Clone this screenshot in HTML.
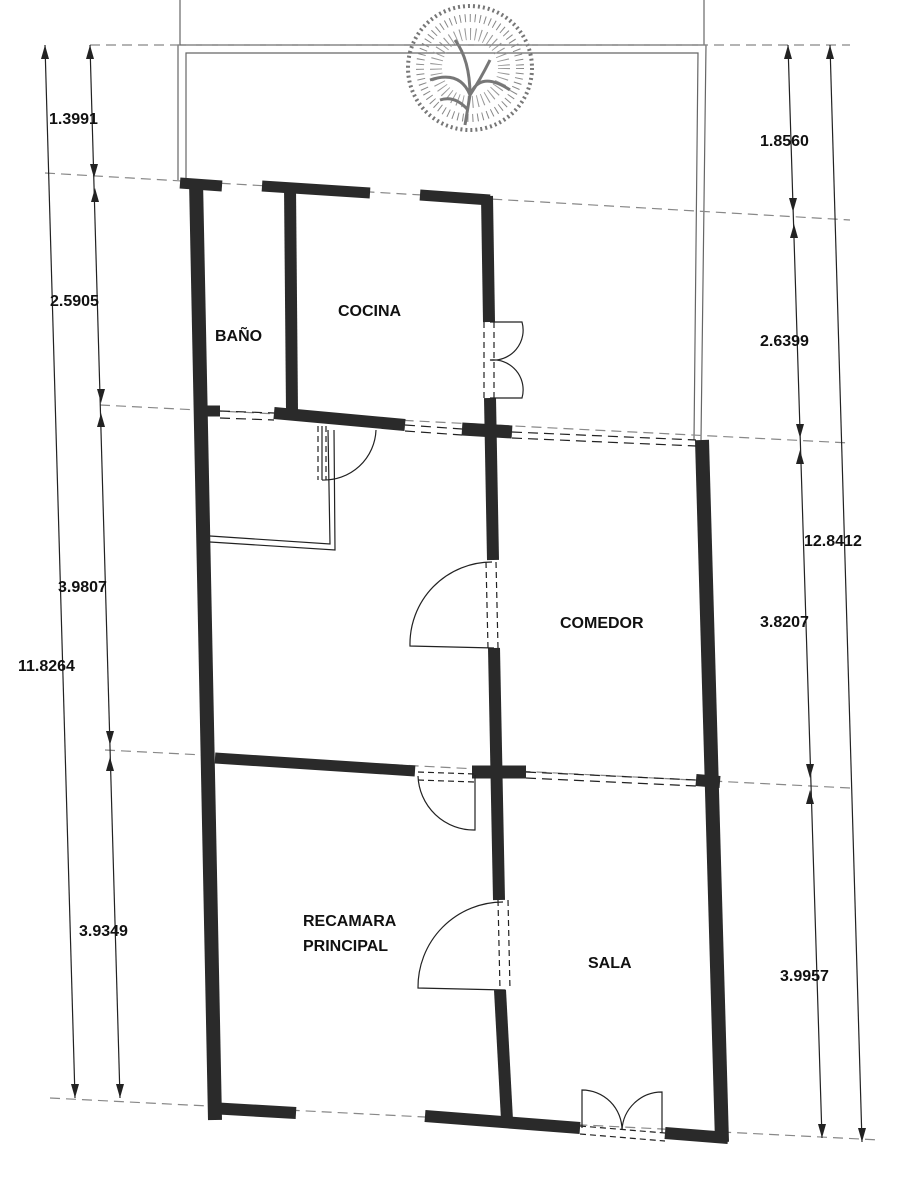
<!DOCTYPE html>
<html><head><meta charset="utf-8"><style>
html,body{margin:0;padding:0;background:#fff;width:919px;height:1200px;overflow:hidden}
svg{display:block}
text{font-family:"Liberation Sans",sans-serif;font-size:16px;fill:#111;font-weight:bold}
.w{stroke:#2a2a2a;stroke-linecap:butt;fill:none}
.d{stroke:#888;stroke-width:1.2;stroke-dasharray:10 6;fill:none}
.t{stroke:#222;stroke-width:1.2;fill:none}
.g{stroke:#666;stroke-width:1.2;fill:none}
</style></head><body>
<svg width="919" height="1200" viewBox="0 0 919 1200">
<path class="g" d="M178 180 L178 45 L706 45 L701 440" />
<path class="g" d="M186 180 L186 53 L698 53 L694 440" />
<line class="g" x1="180" y1="0" x2="180" y2="45"/><line class="g" x1="704" y1="0" x2="704" y2="45"/>
<g>
<circle cx="470" cy="68" r="62" fill="none" stroke="#777" stroke-width="4" stroke-dasharray="2 3"/>
<circle cx="470" cy="68" r="50" fill="none" stroke="#888" stroke-width="8" stroke-dasharray="1 4"/>
<circle cx="470" cy="68" r="34" fill="none" stroke="#999" stroke-width="12" stroke-dasharray="1 4"/>
<path d="M430 80 Q460 70 470 95 Q480 70 510 90 M455 40 Q470 60 470 95 M490 60 Q480 80 470 95 M470 95 L465 125 M440 100 Q455 95 468 110" stroke="#777" stroke-width="3" fill="none"/>
</g>
<path class="d" d="M45 173 L850 220"/>
<path class="d" d="M100 405 L850 443"/>
<path class="d" d="M105 750 L850 788"/>
<path class="d" d="M50 1098 L880 1140"/>
<path class="d" d="M90 45 L850 45"/>
<line class="t" x1="45" y1="45" x2="75" y2="1098"/>
<path d="M45 45 l-4 14 l8 0z" fill="#222"/><path d="M75 1098 l-4 -14 l8 0z" fill="#222"/>
<line class="t" x1="90" y1="45" x2="120" y2="1098"/>
<g fill="#222"><path d="M90 45 l-4 14 l8 0z"/><path d="M94 178 l-4 -14 l8 0z"/><path d="M95 188 l-4 14 l8 0z"/><path d="M101 403 l-4 -14 l8 0z"/><path d="M101 413 l-4 14 l8 0z"/><path d="M110 745 l-4 -14 l8 0z"/><path d="M110 757 l-4 14 l8 0z"/><path d="M120 1098 l-4 -14 l8 0z"/></g>
<line class="t" x1="830" y1="45" x2="862" y2="1142"/>
<path d="M830 45 l-4 14 l8 0z" fill="#222"/><path d="M862 1142 l-4 -14 l8 0z" fill="#222"/>
<line class="t" x1="788" y1="45" x2="822" y2="1138"/>
<g fill="#222"><path d="M788 45 l-4 14 l8 0z"/><path d="M793 212 l-4 -14 l8 0z"/><path d="M794 224 l-4 14 l8 0z"/><path d="M800 438 l-4 -14 l8 0z"/><path d="M800 450 l-4 14 l8 0z"/><path d="M810 778 l-4 -14 l8 0z"/><path d="M810 790 l-4 14 l8 0z"/><path d="M822 1138 l-4 -14 l8 0z"/></g>
<g class="w">
<line x1="196" y1="180" x2="215" y2="1120" stroke-width="14"/>
<line x1="180" y1="183" x2="222" y2="186" stroke-width="11"/>
<line x1="262" y1="186" x2="370" y2="193" stroke-width="11"/>
<line x1="420" y1="195" x2="490" y2="200" stroke-width="11"/>
<line x1="290" y1="186" x2="292" y2="412" stroke-width="12"/>
<line x1="487" y1="196" x2="489" y2="322" stroke-width="12"/>
<line x1="490" y1="398" x2="493" y2="560" stroke-width="12"/>
<line x1="494" y1="648" x2="499" y2="900" stroke-width="12"/>
<line x1="500" y1="990" x2="507" y2="1120" stroke-width="12"/>
<line x1="205" y1="411" x2="220" y2="411" stroke-width="11"/>
<line x1="274" y1="413" x2="405" y2="425" stroke-width="12"/>
<line x1="462" y1="429" x2="512" y2="432" stroke-width="13"/>
<line x1="702" y1="440" x2="722" y2="1142" stroke-width="14"/>
<line x1="215" y1="758" x2="415" y2="771" stroke-width="11"/>
<line x1="472" y1="772" x2="526" y2="772" stroke-width="13"/>
<line x1="696" y1="780" x2="720" y2="782" stroke-width="12"/>
<line x1="210" y1="1108" x2="296" y2="1113" stroke-width="12"/>
<line x1="425" y1="1116" x2="580" y2="1128" stroke-width="12"/>
<line x1="665" y1="1133" x2="728" y2="1138" stroke-width="12"/>
</g>
<path class="t" d="M210 536 L330 544 L328 430" /><path class="t" d="M210 542 L335 550 L334 430"/>
<g class="t">
<path d="M484 322 L484 400 M494 322 L494 400" stroke-dasharray="6 4"/>
<path d="M490 322 L522 322 A30 30 0 0 1 490 360 A30 30 0 0 1 522 398 L490 398"/>
<path d="M318 426 L318 480 M326 426 L326 480" stroke-dasharray="6 4"/>
<path d="M322 480 L322 426 M322 480 A52 52 0 0 0 376 430"/>
<path d="M486 562 L488 648 M496 562 L498 648" stroke-dasharray="6 4"/>
<path d="M492 562 A82 82 0 0 0 410 646 L494 648"/>
<path d="M418 772 L474 774 M418 780 L474 782" stroke-dasharray="6 4"/>
<path d="M475 775 L475 830 A56 56 0 0 1 418 776"/>
<path d="M498 900 L500 990 M508 900 L510 990" stroke-dasharray="6 4"/>
<path d="M503 902 A85 85 0 0 0 418 988 L505 990"/>
<path d="M580 1126 L665 1133 M580 1134 L665 1141" stroke-dasharray="6 4"/>
<path d="M582 1128 L582 1090 A40 40 0 0 1 622 1130 M662 1133 L662 1092 A40 40 0 0 0 622 1130"/>
<path d="M512 432 L696 440 M512 438 L696 446" stroke-dasharray="10 6"/>
<path d="M526 772 L696 780 M526 778 L696 786" stroke-dasharray="10 6"/>
<path d="M220 411 L274 413 M220 418 L274 420" stroke-dasharray="10 6"/>
<path d="M405 425 L462 429 M405 431 L462 435" stroke-dasharray="10 6"/>
</g>
<text x="49" y="124">1.3991</text>
<text x="50" y="306">2.5905</text>
<text x="58" y="592">3.9807</text>
<text x="18" y="671">11.8264</text>
<text x="79" y="936">3.9349</text>
<text x="760" y="146">1.8560</text>
<text x="760" y="346">2.6399</text>
<text x="804" y="546">12.8412</text>
<text x="760" y="627">3.8207</text>
<text x="780" y="981">3.9957</text>
<text x="215" y="341">BAÑO</text>
<text x="338" y="316">COCINA</text>
<text x="560" y="628">COMEDOR</text>
<text x="303" y="926">RECAMARA</text>
<text x="303" y="951">PRINCIPAL</text>
<text x="588" y="968">SALA</text>
</svg>
</body></html>
